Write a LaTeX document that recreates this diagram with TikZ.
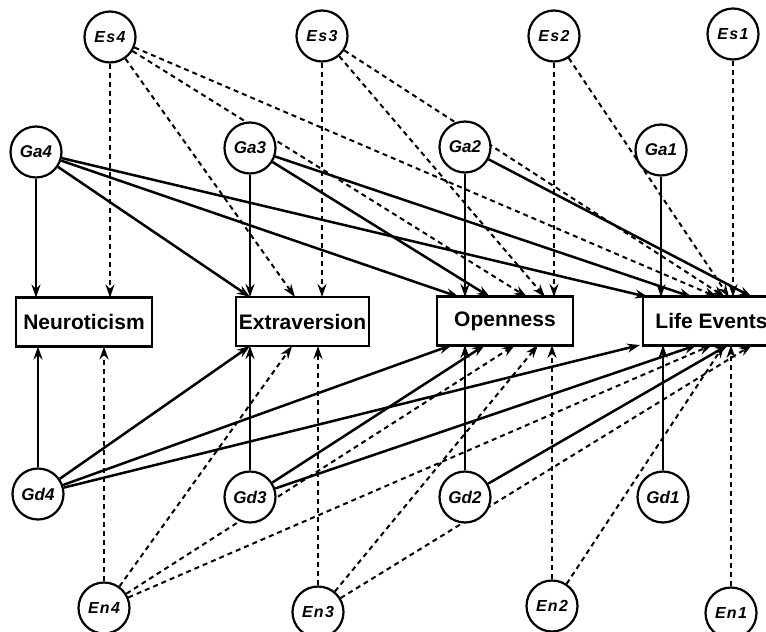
\documentclass[tikz,border=0pt]{standalone}
\usepackage{fontspec}
\setmainfont{Liberation Sans}
\usetikzlibrary{arrows.meta,backgrounds}

\begin{document}
\begin{tikzpicture}[x=1pt,y=-1pt,
  latent/.style={circle,draw,line width=2.2pt,fill=white,minimum size=51pt,inner sep=0pt,
    font=\fontsize{17}{17}\selectfont\bfseries\itshape},
  envlat/.style={latent,font=\fontsize{16}{16}\selectfont\bfseries\itshape\addfontfeature{LetterSpace=8}},
  trait/.style={rectangle,draw,line width=2.8pt,fill=white,minimum height=49pt,minimum width=136pt,
    inner sep=0pt,font=\fontsize{21}{21}\selectfont\bfseries},
  gpath/.style={line width=2.5pt,-{Stealth[length=13pt,width=9pt]}},
  epath/.style={line width=2pt,dash pattern=on 5pt off 4pt,-{Stealth[length=13pt,width=9pt]}},
]
\useasboundingbox (0,0) rectangle (766,632);

% trait boxes
\node[trait] (N) at (84,322) {Neuroticism};
\node[trait,minimum width=133pt] (E) at (302.5,321.5) {Extraversion};
\node[trait] (O) at (505,321) {Openness};
\node[trait,minimum width=137pt] (L) at (711.5,321) {Life Events};

% shared environment (top row)
\node[envlat] (Es4) at (110,37) {Es4};
\node[envlat] (Es3) at (322,36) {Es3};
\node[envlat] (Es2) at (554,36) {Es2};
\node[envlat] (Es1) at (733,34) {Es1};
% additive genetic (top)
\node[latent] (Ga4) at (36,152) {Ga4};
\node[latent] (Ga3) at (250,148) {Ga3};
\node[latent] (Ga2) at (465,147) {Ga2};
\node[latent] (Ga1) at (661,150) {Ga1};
% dominance genetic (bottom)
\node[latent] (Gd4) at (38,494) {Gd4};
\node[latent] (Gd3) at (250,497) {Gd3};
\node[latent] (Gd2) at (465,497) {Gd2};
\node[latent] (Gd1) at (663,497) {Gd1};
% non-shared environment (bottom row)
\node[envlat] (En4) at (104,608) {En4};
\node[envlat] (En3) at (318,612) {En3};
\node[envlat] (En2) at (552,606) {En2};
\node[envlat] (En1) at (731,613) {En1};

% arrow landing points on the boxes
\coordinate (N-a4) at (36,297.5);  \coordinate (N-s4) at (110,297.5);
\coordinate (N-d4) at (38,346.5);  \coordinate (N-n4) at (104,346.5);
\coordinate (E-a4) at (250,297);   \coordinate (E-a3) at (250,297);
\coordinate (E-s4) at (295,297);   \coordinate (E-s3) at (322,297);
\coordinate (E-d4) at (250,346);   \coordinate (E-d3) at (250,346);
\coordinate (E-n4) at (292,346);   \coordinate (E-n3) at (318,346);
\coordinate (O-a4) at (459,297);   \coordinate (O-a2) at (465,297);
\coordinate (O-a3) at (490,297);   \coordinate (O-s4) at (527,297);
\coordinate (O-s3) at (545,297);   \coordinate (O-s2) at (554,297);
\coordinate (O-d4) at (452,345);   \coordinate (O-d2) at (465,345);
\coordinate (O-d3) at (485,345);   \coordinate (O-n4) at (515,345);
\coordinate (O-n3) at (538,345);   \coordinate (O-n2) at (552,345);
\coordinate (L-a4) at (648,297);   \coordinate (L-a1) at (661,297);
\coordinate (L-a3) at (692,297);   \coordinate (L-s4) at (717,297);
\coordinate (L-s3) at (725,297);   \coordinate (L-s2) at (729,297);
\coordinate (L-s1) at (733,297);   \coordinate (L-a2) at (752,297);
\coordinate (L-d4) at (640,345);   \coordinate (L-d1) at (663,345);
\coordinate (L-d3) at (697,345);   \coordinate (L-n4) at (712,345);
\coordinate (L-d2) at (728,345);   \coordinate (L-n2) at (724,345);
\coordinate (L-n1) at (731,345);   \coordinate (L-n3) at (752,345);

\begin{scope}[on background layer]
  % additive genetic paths
  \draw[gpath] (Ga4) -- (N-a4);
  \draw[gpath] (Ga4) -- (E-a4);
  \draw[gpath] (Ga4) -- (O-a4);
  \draw[gpath] (Ga4) -- (L-a4);
  \draw[gpath] (Ga3) -- (E-a3);
  \draw[gpath] (Ga3) -- (O-a3);
  \draw[gpath] (Ga3) -- (L-a3);
  \draw[gpath] (Ga2) -- (O-a2);
  \draw[gpath] (Ga2) -- (L-a2);
  \draw[gpath] (Ga1) -- (L-a1);
  % shared environment paths
  \draw[epath] (Es4) -- (N-s4);
  \draw[epath] (Es4) -- (E-s4);
  \draw[epath] (Es4) -- (O-s4);
  \draw[epath] (Es4) -- (L-s4);
  \draw[epath] (Es3) -- (E-s3);
  \draw[epath] (Es3) -- (O-s3);
  \draw[epath] (Es3) -- (L-s3);
  \draw[epath] (Es2) -- (O-s2);
  \draw[epath] (Es2) -- (L-s2);
  \draw[epath] (Es1) -- (L-s1);
  % dominance genetic paths
  \draw[gpath] (Gd4) -- (N-d4);
  \draw[gpath] (Gd4) -- (E-d4);
  \draw[gpath] (Gd4) -- (O-d4);
  \draw[gpath] (Gd4) -- (L-d4);
  \draw[gpath] (Gd3) -- (E-d3);
  \draw[gpath] (Gd3) -- (O-d3);
  \draw[gpath] (Gd3) -- (L-d3);
  \draw[gpath] (Gd2) -- (O-d2);
  \draw[gpath] (Gd2) -- (L-d2);
  \draw[gpath] (Gd1) -- (L-d1);
  % non-shared environment paths
  \draw[epath] (En4) -- (N-n4);
  \draw[epath] (En4) -- (E-n4);
  \draw[epath] (En4) -- (O-n4);
  \draw[epath] (En4) -- (L-n4);
  \draw[epath] (En3) -- (E-n3);
  \draw[epath] (En3) -- (O-n3);
  \draw[epath] (En3) -- (L-n3);
  \draw[epath] (En2) -- (O-n2);
  \draw[epath] (En2) -- (L-n2);
  \draw[epath] (En1) -- (L-n1);
\end{scope}
\end{tikzpicture}
\end{document}
